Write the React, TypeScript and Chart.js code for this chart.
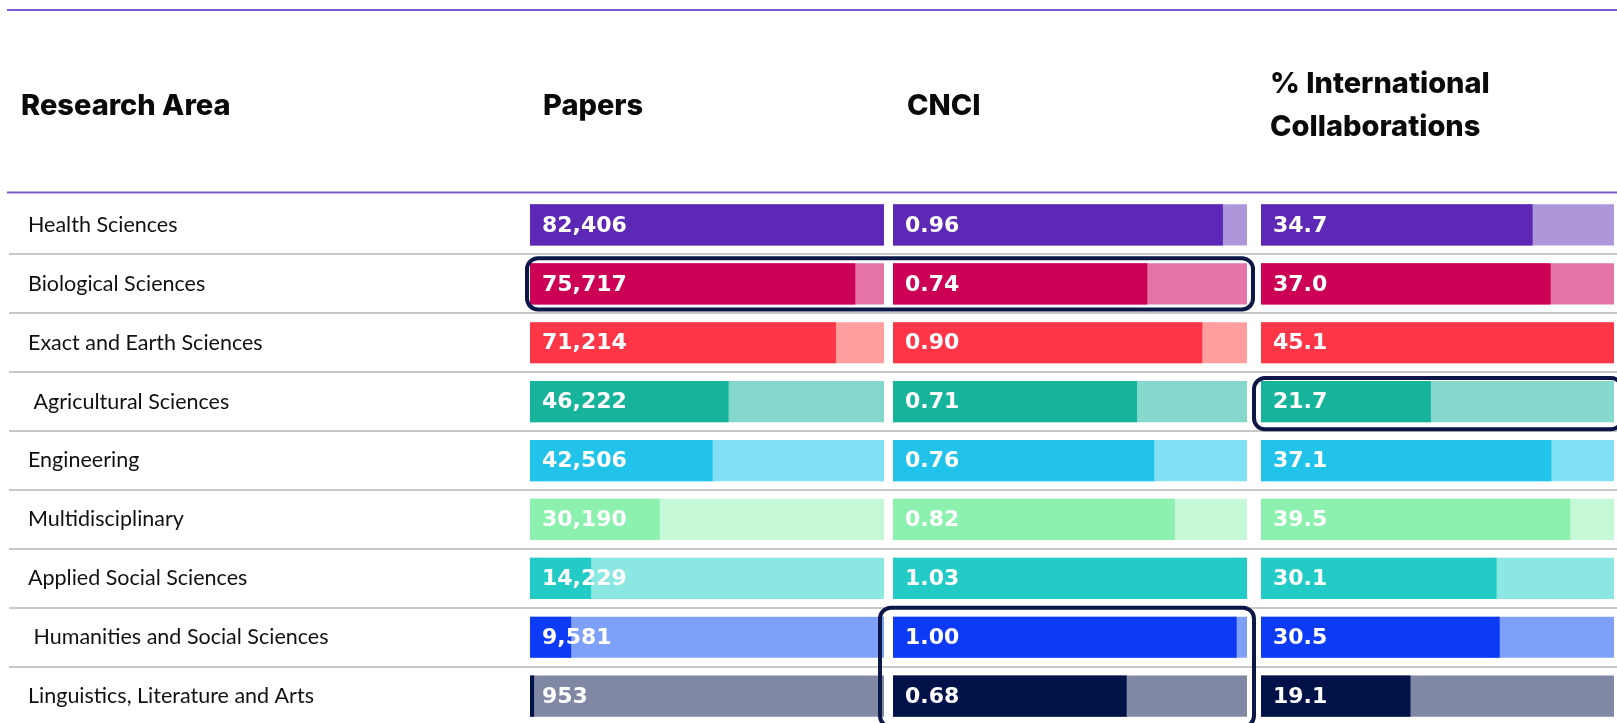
import React, { useEffect, useRef } from "react";
import { Chart, registerables } from "chart.js";

Chart.register(...registerables);

// ---------- data ----------
const areas = [
  "Health Sciences",
  "Biological Sciences",
  "Exact and Earth Sciences",
  " Agricultural Sciences",
  "Engineering",
  "Multidisciplinary",
  "Applied Social Sciences",
  " Humanities and Social Sciences",
  "Linguistics, Literature and Arts",
];
const papers = [82406, 75717, 71214, 46222, 42506, 30190, 14229, 9581, 953];
const cnci = [0.96, 0.74, 0.9, 0.71, 0.76, 0.82, 1.03, 1.0, 0.68];
const intlCollab = [34.7, 37.0, 45.1, 21.7, 37.1, 39.5, 30.1, 30.5, 19.1];

const rowHeader = "Research Area";
const papersHeader = ["Papers"];
const cnciHeader = ["CNCI"];
const intlHeader = ["% International", "Collaborations"];

const darkColors = [
  "#5D28B5",
  "#CC0055",
  "#FF3647",
  "#16B49A",
  "#22C3EA",
  "#8CF0AE",
  "#22CBC5",
  "#0D3BF5",
  "#001248",
];
const lightColors = [
  "#AD96DA",
  "#E574A7",
  "#FF9E9C",
  "#84D9CC",
  "#80E1F5",
  "#C5F8D7",
  "#8AE7E2",
  "#7FA0F8",
  "#8088A3",
];

// highlighted cells: rows + axis span, with outer padding [left, right, top, bottom]
const highlights = [
  { rows: [1], fromAxis: "xP", toAxis: "xC", pad: [5, 8, 7, 7] },
  { rows: [3], fromAxis: "xI", toAxis: "xI", pad: [9, 10, 5, 9] },
  { rows: [7, 8], fromAxis: "xC", toAxis: "xC", pad: [15, 9, 11, 12] },
];

const panels = [
  { axis: "xP", name: "Papers", values: papers, header: papersHeader, hx: 13, fmt: (v: number) => v.toLocaleString("en-US") },
  { axis: "xC", name: "CNCI", values: cnci, header: cnciHeader, hx: 14, fmt: (v: number) => v.toFixed(2) },
  { axis: "xI", name: "% International Collaborations", values: intlCollab, header: intlHeader, hx: 9, fmt: (v: number) => v.toFixed(1) },
];

const HEADER_FONT = "800 29px Inter";
const VALUE_FONT = "bold 22px 'DejaVu Sans'";

const tablePlugin = {
  id: "tableDecor",
  beforeDatasetsDraw(chart: any) {
    const ctx = chart.ctx;
    const y = chart.scales.y;
    const area = chart.chartArea;
    ctx.save();
    // purple rules
    ctx.strokeStyle = "#7C5CCF";
    ctx.lineWidth = 2;
    ctx.beginPath();
    ctx.moveTo(7, 10);
    ctx.lineTo(chart.width, 10);
    ctx.moveTo(7, area.top - 3);
    ctx.lineTo(chart.width, area.top - 3);
    ctx.stroke();
    // row separators
    ctx.strokeStyle = "#C8C8C8";
    ctx.lineWidth = 2;
    ctx.beginPath();
    for (let i = 0; i < areas.length - 1; i++) {
      const yy = Math.round((y.getPixelForValue(i) + y.getPixelForValue(i + 1)) / 2);
      ctx.moveTo(9, yy);
      ctx.lineTo(chart.width, yy);
    }
    ctx.stroke();
    // headers
    ctx.fillStyle = "#0A0A0A";
    ctx.font = HEADER_FONT;
    ctx.textBaseline = "middle";
    ctx.textAlign = "left";
    ctx.fillText(rowHeader, 21, 106);
    panels.forEach((p) => {
      const sc = chart.scales[p.axis];
      if (p.header.length === 1) {
        ctx.fillText(p.header[0], sc.left + p.hx, 106);
      } else {
        ctx.fillText(p.header[0], sc.left + p.hx, 84);
        ctx.fillText(p.header[1], sc.left + p.hx, 127);
      }
    });
    ctx.restore();
  },
  afterDatasetsDraw(chart: any) {
    const ctx = chart.ctx;
    ctx.save();
    // value labels
    ctx.font = VALUE_FONT;
    ctx.fillStyle = "#FFFFFF";
    ctx.textBaseline = "middle";
    ctx.textAlign = "left";
    chart.data.datasets.forEach((ds: any, di: number) => {
      if (!ds.isValue) return;
      const meta = chart.getDatasetMeta(di);
      meta.data.forEach((el: any, j: number) => {
        const start = Math.min(el.base, el.x);
        ctx.fillText(ds.fmt(ds.data[j]), start + 12, el.y + 1);
      });
    });
    // highlight boxes
    ctx.strokeStyle = "#0B1747";
    ctx.lineWidth = 4;
    highlights.forEach((h) => {
      const first = h.rows[0];
      const last = h.rows[h.rows.length - 1];
      const meta = chart.getDatasetMeta(1);
      const elFirst: any = meta.data[first];
      const elLast: any = meta.data[last];
      const top = elFirst.y - elFirst.height / 2 - h.pad[2];
      const bottom = elLast.y + elLast.height / 2 + h.pad[3];
      const left = chart.scales[h.fromAxis].left - h.pad[0];
      const right = chart.scales[h.toAxis].right + h.pad[1];
      ctx.beginPath();
      ctx.roundRect(left + 2, top + 2, right - left - 4, bottom - top - 4, 11);
      ctx.stroke();
    });
    ctx.restore();
  },
};

export default function App() {
  const ref = useRef<HTMLCanvasElement | null>(null);

  useEffect(() => {
    if (!ref.current) return;
    const datasets: any[] = [];
    panels.forEach((p) => {
      const max = Math.max(...p.values);
      datasets.push({
        label: p.name,
        data: p.values,
        xAxisID: p.axis,
        yAxisID: "y",
        backgroundColor: darkColors,
        borderWidth: 0,
        grouped: false,
        order: 0,
        categoryPercentage: 1,
        barPercentage: 0.7,
        isValue: true,
        fmt: p.fmt,
      });
      datasets.push({
        label: p.name + " (max)",
        data: p.values.map(() => max),
        xAxisID: p.axis,
        yAxisID: "y",
        backgroundColor: lightColors,
        borderWidth: 0,
        grouped: false,
        order: 1,
        categoryPercentage: 1,
        barPercentage: 0.7,
      });
    });

    const hiddenX = (weight: number, max?: number) => ({
      type: "linear",
      axis: "x",
      position: "bottom",
      stack: "panels",
      stackWeight: weight,
      display: false,
      min: 0,
      ...(max !== undefined ? { max } : {}),
    });

    const chart = new Chart(ref.current, {
      type: "bar",
      data: { labels: areas, datasets },
      options: {
        indexAxis: "y",
        animation: false,
        responsive: false,
        devicePixelRatio: 1,
        layout: { padding: { left: 28, right: 3, top: 195.5, bottom: 34.4 } },
        plugins: { legend: { display: false }, tooltip: { enabled: false } },
        scales: {
          y: {
            type: "category",
            position: "left",
            offset: true,
            grid: { display: false },
            border: { display: false },
            ticks: {
              crossAlign: "far",
              color: "#111111",
              font: { family: "Lato", size: 21.5 },
            },
            afterFit: (scale: any) => {
              scale.width = 502;
            },
          },
          xP: hiddenX(354, Math.max(...papers)),
          xGap1: hiddenX(9),
          xC: hiddenX(354, Math.max(...cnci)),
          xGap2: hiddenX(14),
          xI: hiddenX(353, Math.max(...intlCollab)),
        } as any,
      } as any,
      plugins: [tablePlugin],
    });
    return () => chart.destroy();
  }, []);

  return (
    <div
      style={{
        position: "fixed",
        left: 0,
        top: 0,
        width: 1617,
        height: 723,
        overflow: "hidden",
        background: "#ffffff",
      }}
    >
      <canvas ref={ref} width={1617} height={760} style={{ display: "block" }} />
    </div>
  );
}
